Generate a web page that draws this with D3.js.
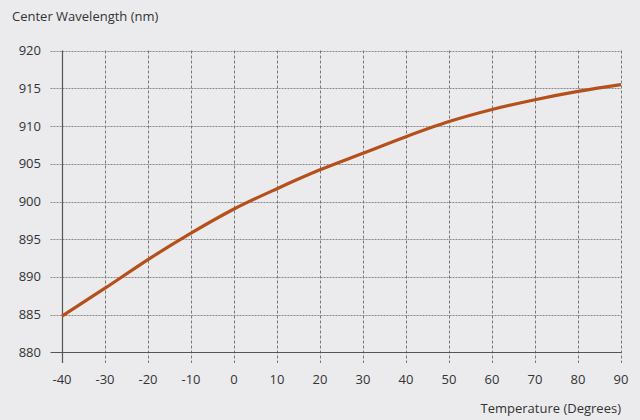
<!DOCTYPE html>
<html><head><meta charset="utf-8">
<script src="https://cdn.jsdelivr.net/npm/d3@7"></script>
<style>
html,body{margin:0;padding:0;background:#ebebed;}
svg{display:block;}
text{font-family:"Open Sans","Noto Sans",sans-serif;fill:#333;}
</style></head>
<body>
<svg id="chart" width="640" height="420"></svg>
<script>
const temperatures = [-40,-30,-20,-10,0,10,20,30,40,50,60,70,80,90];
const wavelengths = [884.8,888.5,892.3,895.8,899.0,901.7,904.2,906.4,908.6,910.6,912.2,913.5,914.6,915.5];
const xTicks = [-40,-30,-20,-10,0,10,20,30,40,50,60,70,80,90];
const yTicks = [880,885,890,895,900,905,910,915,920];
const yTitle = "Center Wavelength (nm)";
const xTitle = "Temperature (Degrees)";

const svg = d3.select("#chart");
const x = d3.scaleLinear().domain([-40,90]).range([62,621]);
const y = d3.scaleLinear().domain([880,920]).range([352.3,50.7]);

// horizontal grid
svg.append("g").selectAll("line").data(yTicks.filter(d=>d>880)).join("line")
  .attr("x1",50.5).attr("x2",621).attr("y1",d=>Math.round(y(d))+0.5).attr("y2",d=>Math.round(y(d))+0.5)
  .attr("stroke","#888").attr("stroke-width",1).attr("stroke-dasharray","2,1");
// vertical grid
svg.append("g").selectAll("line").data(xTicks.filter(d=>d>-40)).join("line")
  .attr("x1",d=>Math.round(x(d))+0.5).attr("x2",d=>Math.round(x(d))+0.5).attr("y1",50.5).attr("y2",363)
  .attr("stroke","#777").attr("stroke-width",1).attr("stroke-dasharray","3,2");

// axes lines
svg.append("line").attr("x1",50.5).attr("x2",621).attr("y1",352.5).attr("y2",352.5)
  .attr("stroke","#555").attr("stroke-width",1.2);
svg.append("line").attr("x1",62.5).attr("x2",62.5).attr("y1",50.5).attr("y2",363)
  .attr("stroke","#555").attr("stroke-width",1.2);

// y tick labels
svg.append("g").selectAll("text").data(yTicks).join("text")
  .attr("x",41).attr("y",d=>y(d)).attr("dy","0.35em").attr("text-anchor","end")
  .attr("font-size",13).text(d=>d);
// x tick labels
svg.append("g").selectAll("text").data(xTicks).join("text")
  .attr("x",d=>x(d)).attr("y",379).attr("dy","0.35em").attr("text-anchor","middle")
  .attr("font-size",13).text(d=>d);

svg.append("text").attr("x",12).attr("y",21).attr("font-size",13).text(yTitle);
svg.append("text").attr("x",621).attr("y",413).attr("text-anchor","end").attr("font-size",13).text(xTitle);

const line = d3.line().x((d,i)=>x(temperatures[i])).y(d=>y(d)).curve(d3.curveMonotoneX);
svg.append("path").datum(wavelengths).attr("d",line).attr("fill","none")
  .attr("stroke","#b5501a").attr("stroke-width",3.2);
</script>
</body></html>
